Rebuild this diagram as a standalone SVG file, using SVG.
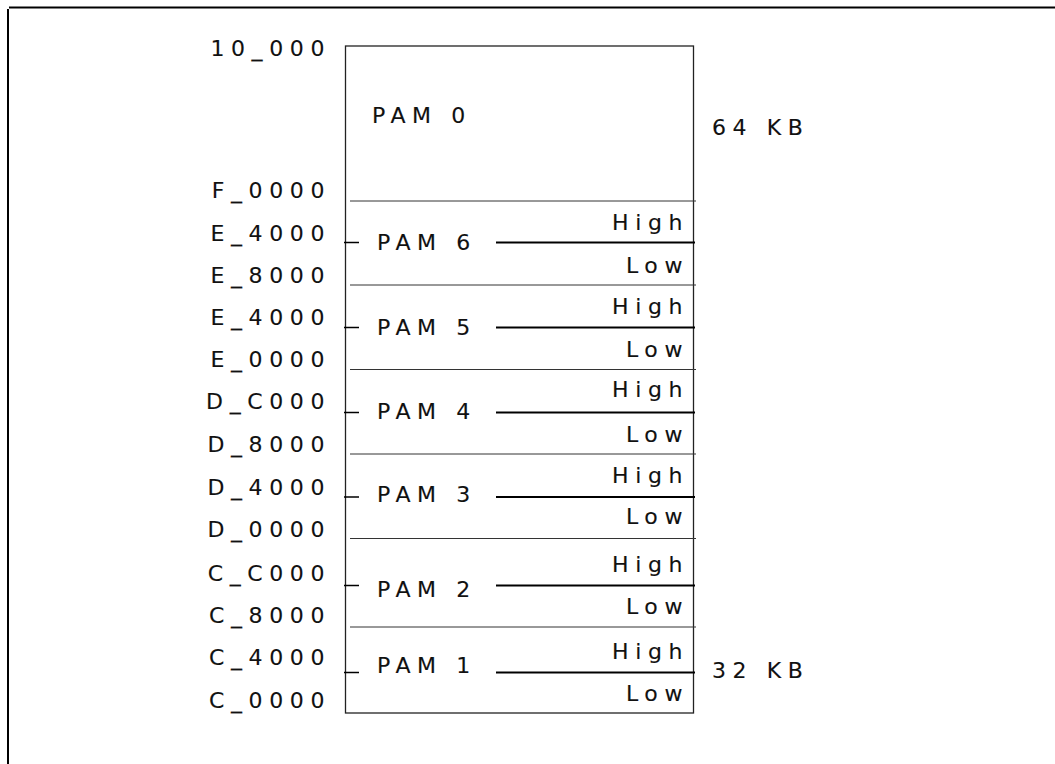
<svg xmlns="http://www.w3.org/2000/svg" width="1055" height="764" viewBox="0 0 1055 764">
<style>
text{font-family:"DejaVu Sans","Verdana",sans-serif;font-size:22px;fill:#111;stroke:#111;stroke-width:0.12;letter-spacing:6.6px}
.addr{text-anchor:end}
.hl{text-anchor:end}
.frame{stroke:#000;stroke-width:2;fill:none}
.box{stroke:#222;stroke-width:1.3;fill:#fff}
.div{stroke:#333;stroke-width:1;fill:none}
.mid{stroke:#000;stroke-width:2;fill:none}
.tick{stroke:#000;stroke-width:1.5;fill:none}
</style>
<rect width="1055" height="764" fill="#fff"/>
<path class="frame" d="M9 7.5H1055M8 9V764"/>
<g id="memory">
<rect class="box" x="345.5" y="46" width="348" height="667"/>
</g>
<g id="connectors">
<path class="div" d="M350 201H696M350 285H696M350 369.5H696M350 454H696M350 538.5H696M350 627H696"/>
<path class="mid" d="M496 242.5H695M496 327.5H695M496 412.5H695M496 497H695M496 585.5H695M496 672.5H695"/>
<path class="tick" d="M344 242.5H359M344 327.5H359M344 412.5H359M344 497H359M344 585.5H359M344 672.5H359"/>
</g>
<g id="addresses">
<text class="addr" x="331" y="56">10_000</text>
<text class="addr" x="331" y="198">F_0000</text>
<text class="addr" x="331" y="241">E_4000</text>
<text class="addr" x="331" y="283">E_8000</text>
<text class="addr" x="331" y="325">E_4000</text>
<text class="addr" x="331" y="367">E_0000</text>
<text class="addr" x="331" y="409">D_C000</text>
<text class="addr" x="331" y="452">D_8000</text>
<text class="addr" x="331" y="495">D_4000</text>
<text class="addr" x="331" y="537">D_0000</text>
<text class="addr" x="331" y="581">C_C000</text>
<text class="addr" x="331" y="623">C_8000</text>
<text class="addr" x="331" y="665">C_4000</text>
<text class="addr" x="331" y="708">C_0000</text>
</g>
<g id="pam0"><text x="372" y="123">PAM 0</text></g>
<g id="pam6"><text x="377" y="250">PAM 6</text><text class="hl" x="689" y="230">High</text><text class="hl" x="689" y="272.5">Low</text></g>
<g id="pam5"><text x="377" y="335">PAM 5</text><text class="hl" x="689" y="314">High</text><text class="hl" x="689" y="356.5">Low</text></g>
<g id="pam4"><text x="377" y="419">PAM 4</text><text class="hl" x="689" y="397">High</text><text class="hl" x="689" y="441.5">Low</text></g>
<g id="pam3"><text x="377" y="502">PAM 3</text><text class="hl" x="689" y="483">High</text><text class="hl" x="689" y="524">Low</text></g>
<g id="pam2"><text x="377" y="597">PAM 2</text><text class="hl" x="689" y="572">High</text><text class="hl" x="689" y="614">Low</text></g>
<g id="pam1"><text x="377" y="673">PAM 1</text><text class="hl" x="689" y="659">High</text><text class="hl" x="689" y="700.5">Low</text></g>
<g id="sizes">
<text x="712" y="135">64 KB</text>
<text x="712" y="678">32 KB</text>
</g>
</svg>
